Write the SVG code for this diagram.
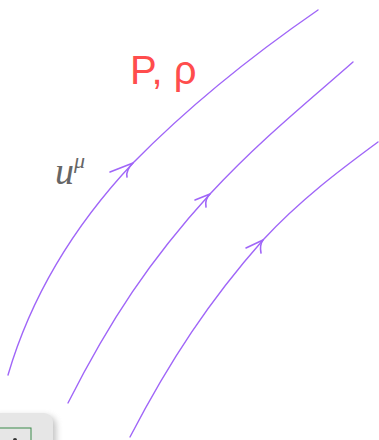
<svg xmlns="http://www.w3.org/2000/svg" width="379" height="440" viewBox="0 0 379 440">
<style>
.flow{fill:none;stroke:#a066f8;stroke-width:1.4;stroke-linecap:round}
.head{fill:none;stroke:#a066f8;stroke-width:1.6;stroke-linecap:round;stroke-linejoin:round}
</style>
<defs>
<filter id="sh" x="-20%" y="-20%" width="160%" height="160%"><feGaussianBlur stdDeviation="3"/></filter>
</defs>
<rect width="379" height="440" fill="#fff"/>
<g id="connectors">
<path class="flow" d="M8,375 C30,300 70,230 133,163 C190,105 260,50 318,10"/>
<path class="head" d="M110,172 L133,163 C128,168 126,172 127,177"/>
<path class="flow" d="M68,403 C110,320 150,260 210,194 C260,140 310,100 353,62"/>
<path class="head" d="M195,200 L210,194 C206,198 205,202 206,207"/>
<path class="flow" d="M130,437 C170,360 210,300 263,240 C300,200 340,170 378,142"/>
<path class="head" d="M246,248 L263,240 C260,244 260,248 261,253"/>
</g>
<g id="label-pressure">
<text x="130" y="84" font-family="Liberation Sans, sans-serif" font-weight="300" font-size="40" fill="#ff4d4d">P, ρ</text>
</g>
<g id="label-velocity">
<text x="55" y="184" font-family="Liberation Serif, serif" font-style="italic" font-size="38" fill="#666">u<tspan dy="-16" font-size="22">μ</tspan></text>
</g>
<g id="widget">
<rect x="-10" y="416" width="66" height="40" rx="9" fill="#999" filter="url(#sh)" opacity="0.6"/>
<rect x="-10" y="413" width="63" height="40" rx="9" fill="#e6e6e6"/>
<rect x="-5" y="428" width="36" height="20" fill="none" stroke="#3a8a4a" stroke-width="1"/>
<circle cx="15" cy="440" r="2" fill="#333"/>
</g>
</svg>
